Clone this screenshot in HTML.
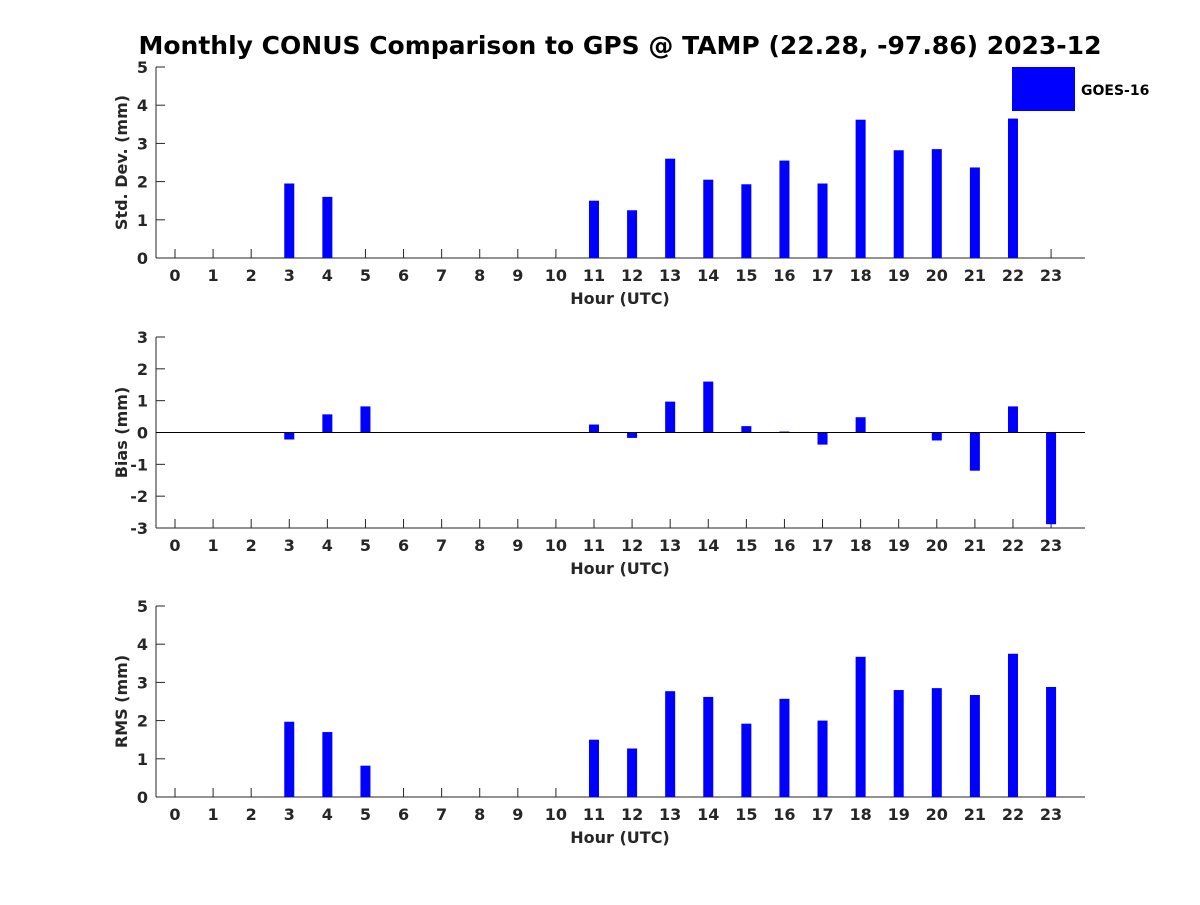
<!DOCTYPE html>
<html><head><meta charset="utf-8"><style>
body{margin:0;background:#fff}
svg text{font-family:"DejaVu Sans","Liberation Sans",sans-serif;font-weight:bold;fill:#262626}
</style></head><body>
<svg id="c" width="1200" height="900" xmlns="http://www.w3.org/2000/svg">
<rect width="1200" height="900" fill="#fff"/>
<text x="620" y="54" font-size="25" text-anchor="middle" style="fill:#000">Monthly CONUS Comparison to GPS @ TAMP (22.28, -97.86) 2023-12</text>
</svg>
<script>
const hours=[0,1,2,3,4,5,6,7,8,9,10,11,12,13,14,15,16,17,18,19,20,21,22,23];
const stdVals=[0,0,0,1.95,1.6,0,0,0,0,0,0,1.5,1.25,2.6,2.05,1.93,2.55,1.95,3.62,2.82,2.85,2.37,3.65,0];
const biasVals=[0,0,0,-0.22,0.57,0.82,0,0,0,0,0,0.25,-0.17,0.97,1.6,0.2,0.03,-0.38,0.48,0,-0.25,-1.2,0.82,-2.88];
const rmsVals=[0,0,0,1.97,1.7,0.82,0,0,0,0,0,1.5,1.27,2.77,2.62,1.92,2.57,2.0,3.67,2.8,2.85,2.67,3.75,2.88];
const stdTicks=[0,1,2,3,4,5];
const biasTicks=[-3,-2,-1,0,1,2,3];
const rmsTicks=[0,1,2,3,4,5];
const svg=document.getElementById('c');
const NS='http://www.w3.org/2000/svg';
function mk(t,a,p){const e=document.createElementNS(NS,t);for(const k in a)e.setAttribute(k,a[k]);(p||svg).appendChild(e);return e;}
const xh=h=>175+h*38.09;
function panel(name,vals,ticks,top,bot,ymin,ymax,ylabel){
  const g=mk('g',{});
  
  
  const y=v=>bot-(v-ymin)/(ymax-ymin)*(bot-top);
  mk('line',{x1:156,y1:top,x2:156,y2:bot,stroke:'#262626','stroke-width':1},g);
  mk('line',{x1:156,y1:bot,x2:1085,y2:bot,stroke:'#262626','stroke-width':1},g);
  ticks.forEach(t=>{
    mk('line',{x1:156,y1:y(t),x2:165,y2:y(t),stroke:'#262626'},g);
    const tx=mk('text',{x:148,y:y(t)+6,'font-size':16,'text-anchor':'end'},g);
    tx.textContent=t;
    
    
  });
  hours.forEach(h=>{
    mk('line',{x1:xh(h),y1:bot,x2:xh(h),y2:bot-9,stroke:'#262626'},g);
    const tx=mk('text',{x:xh(h),y:bot+23,'font-size':16,'text-anchor':'middle'},g);
    tx.textContent=h;
    
    
  });
  const xl=mk('text',{x:620,y:bot+46,'font-size':16,'text-anchor':'middle'},g);
  xl.textContent='Hour (UTC)';
  
  
  const cy=(top+bot)/2;
  const yl=mk('text',{x:121,y:cy+6,'font-size':16,'text-anchor':'middle',transform:`rotate(-90 121 ${cy})`},g);
  yl.textContent=ylabel;
  
  
  const zero=y(Math.max(0,ymin));
  vals.forEach((v,i)=>{
    if(v===0)return;
    const yv=y(v);
    const r=mk('rect',{x:xh(hours[i])-5,y:Math.min(yv,zero),width:10,height:Math.abs(zero-yv),fill:'#0000ff'},g);
    
    
  });
  if(ymin<0) mk('line',{x1:156,y1:zero,x2:1085,y2:zero,stroke:'#000'},g);
}
panel('std-dev',stdVals,stdTicks,67,258,0,5,'Std. Dev. (mm)');
panel('bias',biasVals,biasTicks,337,528,-3,3,'Bias (mm)');
panel('rms',rmsVals,rmsTicks,606,797,0,5,'RMS (mm)');
const lg=mk('g',{});


mk('rect',{x:1012,y:67,width:63,height:44,fill:'#0000ff'},lg);
const lt=mk('text',{x:1081,y:95,'font-size':14,style:'fill:#000'},lg);
lt.textContent='GOES-16';
</script>
</body></html>
